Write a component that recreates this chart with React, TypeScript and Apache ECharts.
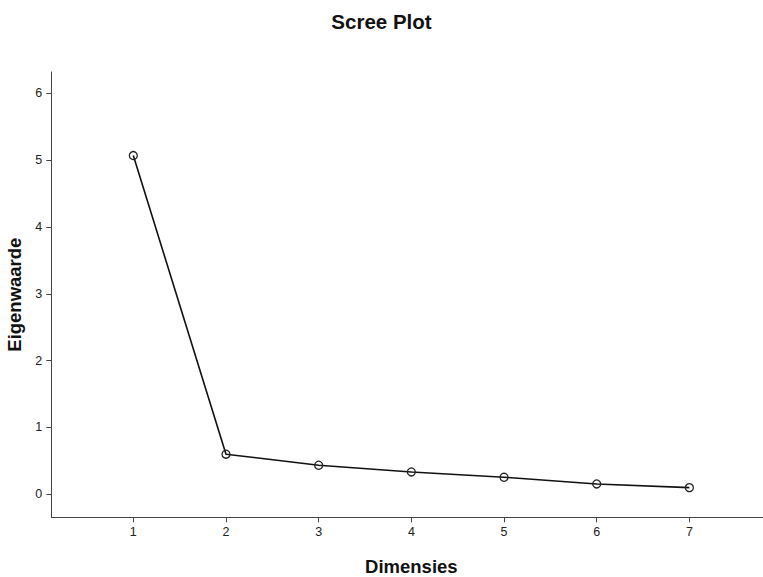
import React, { useEffect, useRef } from "react";
import * as echarts from "echarts";

const dimensions = [1, 2, 3, 4, 5, 6, 7];
const eigenvalues = [5.07, 0.6, 0.435, 0.335, 0.255, 0.155, 0.1];
const yTicks = [0, 1, 2, 3, 4, 5, 6];

const FONT = "'Liberation Sans', Arial, sans-serif";

export default function App() {
  const ref = useRef<HTMLDivElement>(null);
  useEffect(() => {
    if (!ref.current) return;
    const chart = echarts.init(ref.current, undefined, { renderer: "svg" });
    chart.setOption({
      animation: false,
      backgroundColor: "#ffffff",
      title: {
        text: "Scree Plot",
        left: "center",
        top: 6,
        textStyle: { fontFamily: FONT, fontSize: 20.5, fontWeight: "bold", color: "#111" },
      },
      grid: {
        left: 51.3,
        right: -8.4,
        top: 72,
        bottom: 59.7,
        containLabel: false,
        outerBoundsMode: "none",
      },
      xAxis: {
        type: "value",
        min: 0.115,
        max: 7.885,
        interval: 1,
        name: "Dimensies",
        nameLocation: "middle",
        nameGap: 40,
        nameTextStyle: { fontFamily: FONT, fontSize: 18.5, fontWeight: "bold", color: "#111" },
        axisLine: { show: true, onZero: false, lineStyle: { color: "#444", width: 1 } },
        axisTick: { show: true, inside: false, length: 5, lineStyle: { color: "#444" }, customValues: dimensions },
        axisLabel: {
          fontFamily: FONT,
          fontSize: 12.5,
          color: "#222",
          margin: 8,
          customValues: dimensions,
          formatter: (v: number) => String(v),
        },
        splitLine: { show: false },
      },
      yAxis: {
        type: "value",
        min: -0.344,
        max: 6.32,
        name: "Eigenwaarde",
        nameLocation: "middle",
        nameGap: 21,
        nameRotate: 90,
        nameTextStyle: { fontFamily: FONT, fontSize: 18.5, fontWeight: "bold", color: "#111" },
        axisLine: { show: true, onZero: false, lineStyle: { color: "#444", width: 1 } },
        axisTick: { show: true, inside: false, length: 5, lineStyle: { color: "#444" }, customValues: yTicks },
        axisLabel: {
          fontFamily: FONT,
          fontSize: 12.5,
          color: "#222",
          margin: 9,
          customValues: yTicks,
          formatter: (v: number) => String(v),
        },
        splitLine: { show: false },
      },
      series: [
        {
          type: "line",
          data: dimensions.map((d, i) => [d, eigenvalues[i]]),
          symbol: "circle",
          symbolSize: 8,
          showSymbol: true,
          lineStyle: { color: "#111", width: 1.6 },
          itemStyle: { color: "transparent", borderColor: "#222", borderWidth: 1.3 },
        },
      ],
    });
    return () => chart.dispose();
  }, []);
  return (
    <div
      ref={ref}
      style={{ position: "fixed", left: 0, top: 0, width: 763, height: 577, background: "#fff" }}
    />
  );
}
